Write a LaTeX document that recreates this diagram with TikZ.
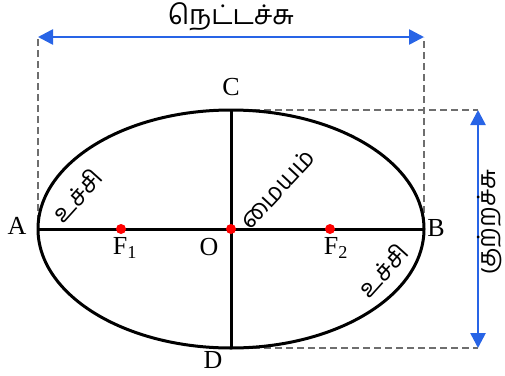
\documentclass[tikz,border=0pt]{standalone}
\usepackage{fontspec}
\setmainfont{Liberation Serif}
\newfontfamily\tamilfont[Script=Tamil]{Hind Madurai}
\usepackage{xcolor}
\usetikzlibrary{arrows.meta}

\definecolor{axisblue}{RGB}{40,100,230}
\definecolor{guidegray}{RGB}{110,110,110}

\begin{document}
\begin{tikzpicture}[
    x=1pt, y=-1pt,
    curve/.style={draw, line width=3pt},
    axisline/.style={line width=3pt},
    guide/.style={draw=guidegray, dashed, dash pattern=on 7pt off 4pt, line width=1.4pt},
    measure/.style={{Triangle[length=15pt,width=15pt]}-{Triangle[length=15pt,width=15pt]}, draw=axisblue, line width=2.6pt},
    focus/.style={circle, fill=red, inner sep=0pt, minimum size=10pt},
    ptlabel/.style={font=\fontsize{26}{30}\selectfont, inner sep=0pt},
    tamil/.style={font=\tamilfont\fontsize{27}{30}\selectfont, inner sep=0pt},
    tilted/.style={tamil, font=\tamilfont\fontsize{25}{28}\selectfont}
  ]
    \useasboundingbox (0,0) rectangle (505,375);

    % Ellipse end points
    \coordinate (ptA) at (38,229);
    \coordinate (ptB) at (424,229);
    \coordinate (ptC) at (231,110);
    \coordinate (ptD) at (231,348);

    % Guide corners
    \coordinate (topL) at (38,37);
    \coordinate (topR) at (424,37);
    \coordinate (footL) at (38,222);
    \coordinate (footR) at (424,224);
    \coordinate (sideT) at (478,110);
    \coordinate (sideB) at (478,348);

    % Dashed guides
    \draw[guide] (footL) -- (topL);
    \draw[guide] (footR) -- (topR);
    \draw[guide] (ptC) -- (sideT);
    \draw[guide] (ptD) -- (sideB);

    % Ellipse and axes
    \draw[curve] (231,229) ellipse [x radius=193, y radius=119];
    \draw[axisline] (ptA) -- (ptB);
    \draw[axisline] (ptC) -- (ptD);

    % Centre and foci
    \node[focus] (centre) at (231,229) {};
    \node[focus] (foc1) at (121,229) {};
    \node[focus] (foc2) at (330,229) {};

    % Measurement arrows
    \draw[measure] (topL) -- (topR);
    \draw[measure] (sideT) -- (sideB);

    % Point labels
    \node[ptlabel] (labA) at (17,226) {A};
    \node[ptlabel] (labB) at (436,228) {B};
    \node[ptlabel] (labC) at (231,87) {C};
    \node[ptlabel] (labD) at (213,360) {D};
    \node[ptlabel] (labO) at (209,247) {O};
    \node[ptlabel] (labF1) at (125,248) {F\textsubscript{1}};
    \node[ptlabel] (labF2) at (336,248) {F\textsubscript{2}};

    % Tamil labels
    \node[tamil] (major) at (231,17) {நெட்டச்சு};
    \node[tilted, rotate=90] (minor) at (490,222) {குற்றச்சு};
    \node[tilted, rotate=48] (vertA) at (77,195) {உச்சி};
    \node[tilted, rotate=48] (vertB) at (383,270) {உச்சி};
    \node[tilted, rotate=47] (middle) at (277,189) {மையம்};
    
  \end{tikzpicture}
\end{document}
